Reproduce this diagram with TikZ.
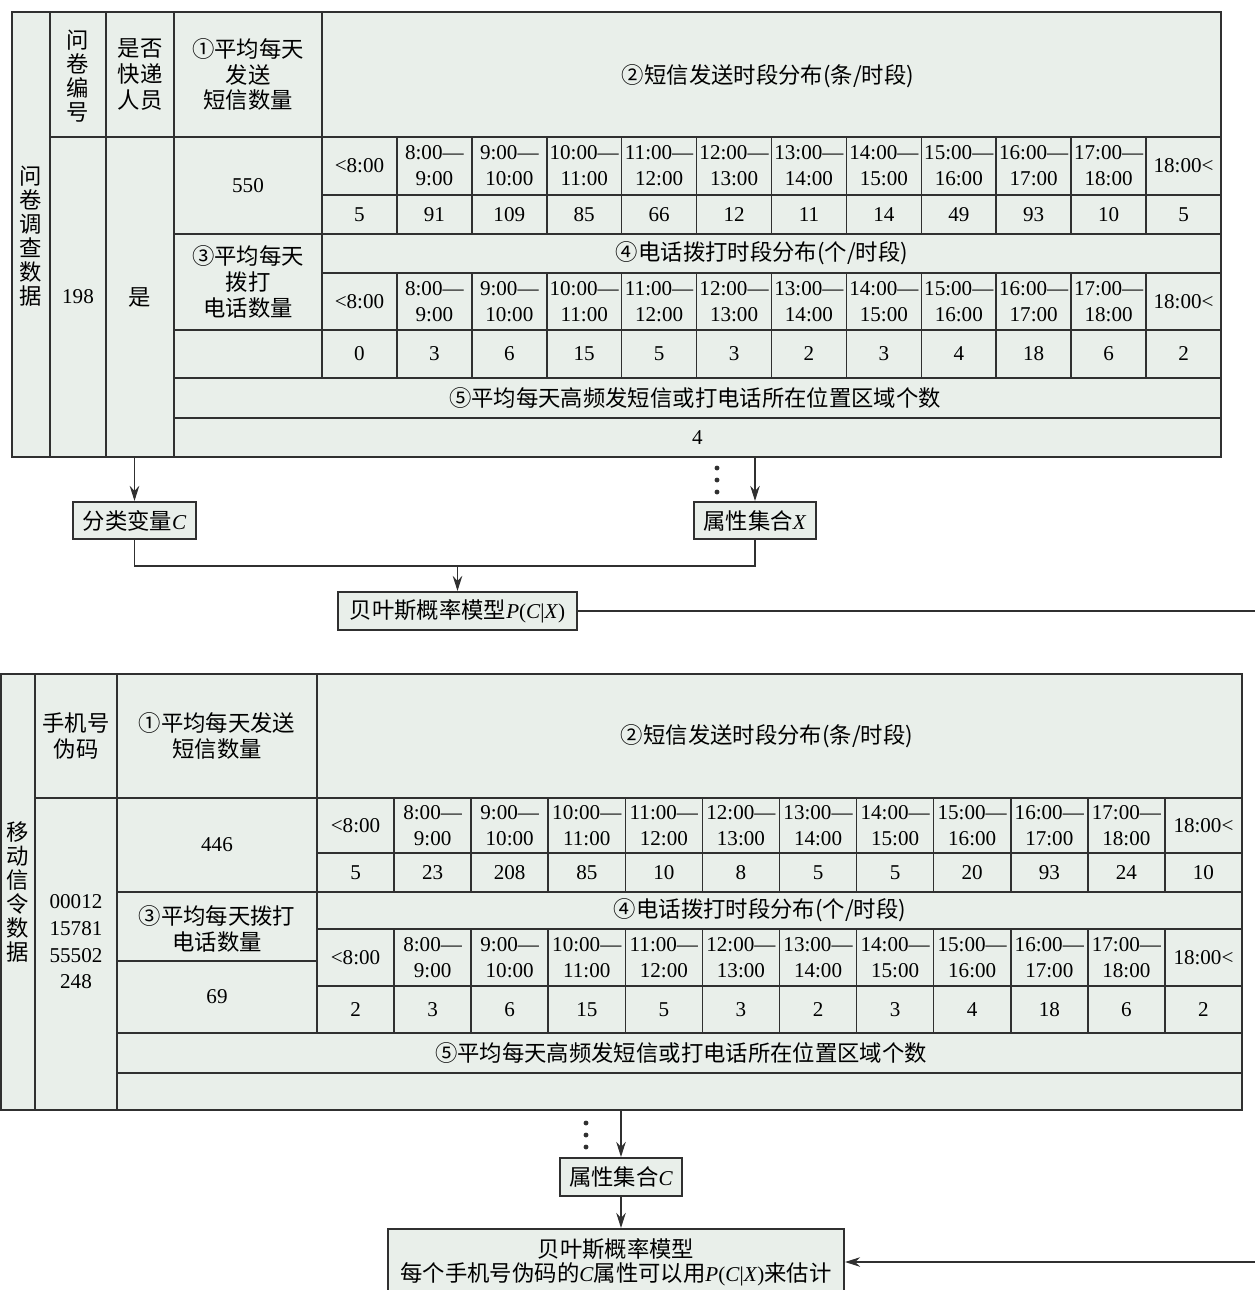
\documentclass[tikz,border=0pt]{standalone}
\usepackage{fontspec}
\setmainfont{Liberation Serif}
\newfontfamily\cjk[Scale=1.06]{Noto Sans CJK SC}
\usetikzlibrary{arrows.meta}
\definecolor{tabfill}{HTML}{E9EFEA}
\definecolor{rulegray}{HTML}{303030}
\tikzset{
  tabline/.style={draw=rulegray,line width=0.9pt},
  tabframe/.style={draw=rulegray,line width=1.3pt},
  cell/.style={inner sep=0pt,align=center,font=\fontsize{12}{14.7}\selectfont},
  cn/.style={cell,font=\cjk\fontsize{12}{14.7}\selectfont},
  vert/.style={cell,font=\cjk\fontsize{12}{13.6}\selectfont},
  flowbox/.style={draw=rulegray,fill=tabfill,line width=1.2pt,inner sep=0pt,
    font=\fontsize{12}{14.7}\selectfont,align=center},
  link/.style={draw=rulegray,line width=0.6pt},
}
\def\slots{{<8:00},{8:00—\\9:00},{9:00—\\10:00},{10:00—\\11:00},{11:00—\\12:00},{12:00—\\13:00},{13:00—\\14:00},{14:00—\\15:00},{15:00—\\16:00},{16:00—\\17:00},{17:00—\\18:00},{18:00<}}

\begin{document}
\begin{tikzpicture}[x=0.2mm,y=-0.2mm,>={Stealth[length=3mm,width=1.9mm]}]
\useasboundingbox (0,0) rectangle (1255,1290);

% questionnaire table
\fill[tabfill] (12,12) rectangle (1221,457);
\draw[tabline] (50,137) -- (1221,137);
\draw[tabline] (322,195) -- (1221,195);
\draw[tabline] (174,234) -- (1221,234);
\draw[tabline] (322,273) -- (1221,273);
\draw[tabline] (174,330) -- (1221,330);
\draw[tabline] (174,378) -- (1221,378);
\draw[tabline] (174,418) -- (1221,418);
\draw[tabline] (50,12) -- (50,457);
\draw[tabline] (106,12) -- (106,457);
\draw[tabline] (174,12) -- (174,457);
\draw[tabline] (322,12) -- (322,378);
\foreach \i in {1,...,11} {
  \draw[tabline] ({322+\i*74.917},137) -- ++(0,97);
  \draw[tabline] ({322+\i*74.917},273) -- ++(0,105);
}
\draw[tabframe] (12,12) rectangle (1221,457);
\coordinate (tabAbot) at (0,457);

\node[vert] (srcA) at (31,236) {问\\卷\\调\\查\\数\\据};
\node[vert] (qnoH) at (78,76) {问\\卷\\编\\号};
\node[cell] (qno) at (78,297) {198};
\node[cn] (courH) at (140,74.5) {是否\\快递\\人员};
\node[cn] (cour) at (140,297) {是};
\node[cn] (smsH) at (248,74.5) {①平均每天\\发送\\短信数量};
\node[cell] (sms) at (248,185.5) {550};
\node[cn] (telH) at (248,282) {③平均每天\\拨打\\电话数量};
\node[cn] (smsDistA) at (768,76) {②短信发送时段分布(条/时段)};
\node[cn] (telDistA) at (762,253.5) {④电话拨打时段分布(个/时段)};
\node[cn] (locHA) at (695,398) {⑤平均每天高频发短信或打电话所在位置区域个数};
\node[cell] (locA) at (697.5,437.5) {4};
\foreach \slot [count=\i from 0] in \slots {
  \node[cell] (slotSA\i) at ({322+(\i+0.5)*74.917},166) {\slot};
  \node[cell] (slotTA\i) at ({322+(\i+0.5)*74.917},301.5) {\slot};
}
\foreach \v [count=\i from 0] in {5,91,109,85,66,12,11,14,49,93,10,5}
  \node[cell] (numSA\i) at ({322+(\i+0.5)*74.917},214.5) {\v};
\foreach \v [count=\i from 0] in {0,3,6,15,5,3,2,3,4,18,6,2}
  \node[cell] (numTA\i) at ({322+(\i+0.5)*74.917},354) {\v};

% model from the questionnaire
\node[flowbox,minimum width=24.6mm,minimum height=7.4mm] (clsC) at (134.5,520.5) {{\cjk 分类变量}\textit{C}};
\node[flowbox,minimum width=24.4mm,minimum height=7.4mm] (attrX) at (755,520.5) {{\cjk 属性集合}\textit{X}};
\node[flowbox,minimum width=47.8mm,minimum height=7.6mm] (bayesA) at (457.5,611) {{\cjk 贝叶斯概率模型}\textit{P}(\textit{C}|\textit{X})};
\coordinate (join) at (457.5,566);
\draw[link,->] (clsC.north |- tabAbot) -- (clsC.north);
\draw[link,->] (attrX.north |- tabAbot) -- (attrX.north);
\foreach \d in {468,480,492} \fill[rulegray] (717,\d) circle (1.4pt);
\draw[link] (clsC.south) |- (join) -| (attrX.south);
\draw[link,->] (join) -- (bayesA.north);

% signalling table
\fill[tabfill] (1,674) rectangle (1242,1110);
\draw[tabline] (35,798) -- (1242,798);
\draw[tabline] (317,853) -- (1242,853);
\draw[tabline] (117,892) -- (1242,892);
\draw[tabline] (317,929) -- (1242,929);
\draw[tabline] (117,961) -- (317,961);
\draw[tabline] (317,986) -- (1242,986);
\draw[tabline] (117,1033) -- (1242,1033);
\draw[tabline] (117,1073) -- (1242,1073);
\draw[tabline] (35,674) -- (35,1110);
\draw[tabline] (117,674) -- (117,1110);
\draw[tabline] (317,674) -- (317,1033);
\foreach \i in {1,...,11} {
  \draw[tabline] ({317+\i*77.083},798) -- ++(0,94);
  \draw[tabline] ({317+\i*77.083},929) -- ++(0,104);
}
\draw[tabframe] (1,674) rectangle (1242,1110);
\coordinate (tabBbot) at (0,1110);

\node[vert] (srcB) at (17.5,892) {移\\动\\信\\令\\数\\据};
\node[cn] (phoneH) at (76,736) {手机号\\伪码};
\node[cell,font=\fontsize{12}{15.2}\selectfont] (phone) at (76,942) {00012\\15781\\55502\\248};
\node[cn] (smsHB) at (217,736) {①平均每天发送\\短信数量};
\node[cell] (smsB) at (217,845) {446};
\node[cn] (telHB) at (217,929) {③平均每天拨打\\电话数量};
\node[cell] (telB) at (217,997) {69};
\node[cn] (smsDistB) at (767,736) {②短信发送时段分布(条/时段)};
\node[cn] (telDistB) at (760,910.5) {④电话拨打时段分布(个/时段)};
\node[cn] (locHB) at (681,1053) {⑤平均每天高频发短信或打电话所在位置区域个数};
\foreach \slot [count=\i from 0] in \slots {
  \node[cell] (slotSB\i) at ({317+(\i+0.5)*77.083},825.5) {\slot};
  \node[cell] (slotTB\i) at ({317+(\i+0.5)*77.083},957.5) {\slot};
}
\foreach \v [count=\i from 0] in {5,23,208,85,10,8,5,5,20,93,24,10}
  \node[cell] (numSB\i) at ({317+(\i+0.5)*77.083},872.5) {\v};
\foreach \v [count=\i from 0] in {2,3,6,15,5,3,2,3,4,18,6,2}
  \node[cell] (numTB\i) at ({317+(\i+0.5)*77.083},1009.5) {\v};

% estimate for each phone
\node[flowbox,minimum width=24.4mm,minimum height=7.6mm] (attrC) at (621,1177) {{\cjk 属性集合}\textit{C}};
\node[flowbox,minimum width=91.2mm,minimum height=13.4mm] (bayesB) at (616,1262.5)
  {{\cjk 贝叶斯概率模型}\\[-1pt]{\cjk 每个手机号伪码的}\textit{C}{\cjk 属性可以用}\textit{P}(\textit{C}|\textit{X}){\cjk 来估计}};
\draw[link,->] (attrC.north |- tabBbot) -- (attrC.north);
\foreach \d in {1123,1135,1147} \fill[rulegray] (586,\d) circle (1.4pt);
\draw[link,->] (attrC.south) -- (attrC.south |- bayesB.north);
\draw[link,->] (bayesA.east) -- (1262,611) -- (1262,1262) -- (bayesB.east |- 0,1262);
\end{tikzpicture}
\end{document}
